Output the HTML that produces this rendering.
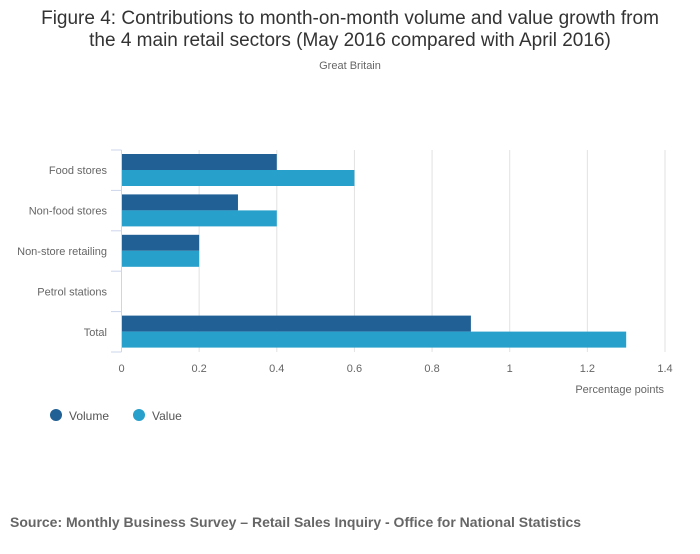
<!DOCTYPE html>
<html><head><meta charset="utf-8"><style>
body{margin:0;background:#fff;font-family:"Liberation Sans",sans-serif;}
</style></head><body>
<svg width="700" height="549" viewBox="0 0 700 549" xmlns="http://www.w3.org/2000/svg" id="chart">
<text x="350" y="24" text-anchor="middle" font-size="19" fill="#333">Figure 4: Contributions to month-on-month volume and value growth from</text>
<text x="350" y="46" text-anchor="middle" font-size="19" fill="#333">the 4 main retail sectors (May 2016 compared with April 2016)</text>
<text x="350" y="69" text-anchor="middle" font-size="11" fill="#666">Great Britain</text>
<g id="grid"></g><g id="bars"></g><g id="axes"></g>
<text x="664" y="393" text-anchor="end" font-size="11" fill="#666">Percentage points</text>
<g>
<circle cx="56" cy="415" r="6" fill="#206095"/>
<text x="69" y="420" font-size="12" fill="#555">Volume</text>
<circle cx="139" cy="415" r="6" fill="#27a0cc"/>
<text x="152" y="420" font-size="12" fill="#555">Value</text>
</g>
<text x="10" y="527" font-size="14" font-weight="bold" fill="#666">Source: Monthly Business Survey – Retail Sales Inquiry - Office for National Statistics</text>
</svg>
<script>
const categories=["Food stores","Non-food stores","Non-store retailing","Petrol stations","Total"];
const volume=[0.4,0.3,0.2,0,0.9];
const value=[0.6,0.4,0.2,0,1.3];
const ticks=[0,0.2,0.4,0.6,0.8,1,1.2,1.4];
const tickLabels=["0","0.2","0.4","0.6","0.8","1","1.2","1.4"];
const NS="http://www.w3.org/2000/svg";
const x0=121.5,x1=665,yTop=150,yBot=352,xmax=1.4;
const xs=v=>x0+(x1-x0)*v/xmax;
const bw=(yBot-yTop)/categories.length;
function mk(t,a,p){const e=document.createElementNS(NS,t);for(const k in a)e.setAttribute(k,a[k]);p.appendChild(e);return e;}
const grid=document.getElementById('grid'),bars=document.getElementById('bars'),axes=document.getElementById('axes');
ticks.forEach((t,i)=>{
 if(i>0){const g=mk('line',{x1:xs(t),x2:xs(t),y1:yTop,y2:yBot,stroke:'#e2e2e2','stroke-width':1},grid);
 
 }
 const l=mk('text',{x:xs(t),y:372,'text-anchor':'middle','font-size':11,fill:'#666'},axes);
 l.textContent=tickLabels[i];
 
 
});
categories.forEach((c,i)=>{
 const b=yTop+i*bw;
 const r1=mk('rect',{x:x0,y:b+4,width:Math.max(0,xs(volume[i])-x0),height:16,fill:'#206095'},bars);
 
 
 const r2=mk('rect',{x:x0,y:b+20,width:Math.max(0,xs(value[i])-x0),height:16,fill:'#27a0cc'},bars);
 
 
 const l=mk('text',{x:107,y:b+bw/2+4,'text-anchor':'end','font-size':11,fill:'#666'},axes);
 l.textContent=c;
 
 
});
for(let i=0;i<=categories.length;i++){const y=yTop+i*bw;
 const t=mk('line',{x1:111,x2:x0,y1:y,y2:y,stroke:'#ccd6eb','stroke-width':1},axes);
 
 }
const ax=mk('line',{x1:x0,x2:x0,y1:yTop,y2:yBot,stroke:'#ccd6eb','stroke-width':1},axes);


</script>
</body></html>
